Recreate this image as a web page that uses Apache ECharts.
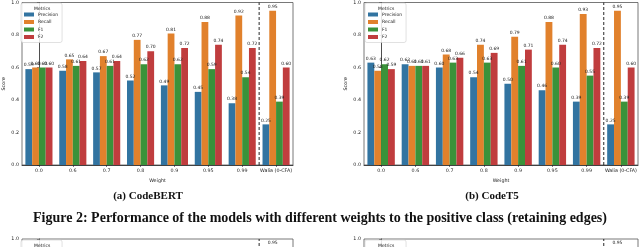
<!DOCTYPE html>
<html>
<head>
<meta charset="utf-8">
<script src="https://cdn.jsdelivr.net/npm/echarts@6/dist/echarts.min.js"></script>
<style>
html,body{margin:0;padding:0;background:#fff;overflow:hidden;width:640px;height:247px;}
#chart{width:640px;height:420px;}
</style>
</head>
<body>
<div id="chart"></div>
<script>
// ---- data ----
const categories = ['0.0', '0.6', '0.7', '0.8', '0.9', '0.95', '0.99', 'Walia (0-CFA)'];
const metrics = ['Precision', 'Recall', 'F1', 'F2'];
const yTicks = [0, 0.2, 0.4, 0.6, 0.8, 1.0];

const codebertPrecision = [0.59, 0.58, 0.57, 0.52, 0.49, 0.45, 0.38, 0.25];
const codebertRecall    = [0.60, 0.65, 0.67, 0.77, 0.81, 0.88, 0.92, 0.95];
const codebertF1        = [0.60, 0.61, 0.61, 0.62, 0.62, 0.59, 0.54, 0.39];
const codebertF2        = [0.60, 0.64, 0.64, 0.70, 0.72, 0.74, 0.72, 0.60];

const codet5Precision = [0.63, 0.62, 0.60, 0.54, 0.50, 0.46, 0.39, 0.25];
const codet5Recall    = [0.58, 0.61, 0.68, 0.74, 0.79, 0.88, 0.93, 0.95];
const codet5F1        = [0.62, 0.61, 0.63, 0.63, 0.61, 0.60, 0.55, 0.39];
const codet5F2        = [0.59, 0.61, 0.66, 0.69, 0.71, 0.74, 0.72, 0.60];

// next figure (only its top edge is visible): Walia baseline column only
const nextPrecision = [null, null, null, null, null, null, null, 0.25];
const nextRecall    = [null, null, null, null, null, null, null, 0.95];
const nextF1        = [null, null, null, null, null, null, null, 0.39];
const nextF2        = [null, null, null, null, null, null, null, 0.60];

const separatorAt = 6.5; // boundary between '0.99' and 'Walia (0-CFA)'

const captionA = '(a) CodeBERT';
const captionB = '(b) CodeT5';
const figureCaption = 'Figure 2: Performance of the models with different weights to the positive class (retaining edges)';

// ---- styles ----
const colors = ['#3274a1', '#e1812c', '#3a923a', '#c03d3e'];
const tickFont = 'DejaVu Sans';
const H = 163;
const panels = [
  {left: 20, top: 2, width: 273, data: [codebertPrecision, codebertRecall, codebertF1, codebertF2]},
  {left: 364, top: 2, width: 274, data: [codet5Precision, codet5Recall, codet5F1, codet5F2]},
  {left: 20, top: 239, width: 273, data: [nextPrecision, nextRecall, nextF1, nextF2]},
  {left: 364, top: 239, width: 274, data: [nextPrecision, nextRecall, nextF1, nextF2]}
];

const grid = [], xAxis = [], yAxis = [], series = [], legend = [], graphic = [];
const n = panels.length;
panels.forEach((p, i) => {
  grid.push({left: p.left, top: p.top, width: p.width, height: H, show: true,
    borderColor: '#555', borderWidth: 0.8, containLabel: false});
  xAxis.push({type: 'category', gridIndex: i, data: categories,
    axisLine: {lineStyle: {color: '#222', width: 0.8}},
    axisTick: {show: true, alignWithLabel: true, length: 2, lineStyle: {color: '#222', width: 0.6}},
    axisLabel: {fontFamily: tickFont, fontSize: 4.8, color: '#222', margin: 3, interval: 0},
    name: 'Weight', nameLocation: 'middle', nameGap: 13,
    nameTextStyle: {fontFamily: tickFont, fontSize: 4.8, color: '#222'}});
  yAxis.push({type: 'value', gridIndex: i, min: 0, max: 1, interval: 0.2,
    axisLine: {show: true, lineStyle: {color: '#222', width: 0.8}},
    axisTick: {show: true, length: 2, lineStyle: {color: '#222', width: 0.6}},
    splitLine: {show: false},
    axisLabel: {fontFamily: tickFont, fontSize: 4.8, color: '#222', margin: 3,
      formatter: v => yTicks.indexOf(Math.round(v * 10) / 10) >= 0 ? v.toFixed(1) : ''},
    name: 'Score', nameLocation: 'middle', nameGap: 16, nameRotate: 90,
    nameTextStyle: {fontFamily: tickFont, fontSize: 4.8, color: '#222'}});
  metrics.forEach((m, k) => {
    series.push({name: m, type: 'bar', xAxisIndex: i, yAxisIndex: i, data: p.data[k],
      barGap: '0%', barCategoryGap: '20%',
      itemStyle: {color: colors[k]},
      label: {show: true, position: 'top', distance: 1.5, fontFamily: tickFont, fontSize: 4.5, color: '#222',
        formatter: d => d.value == null ? '' : Number(d.value).toFixed(2)},
      animation: false});
  });
  legend.push({left: p.left + 1, top: p.top + 1, orient: 'vertical', data: metrics,
    backgroundColor: 'rgba(255,255,255,0.85)', borderColor: '#cccccc', borderWidth: 0.6, borderRadius: 2,
    padding: [9, 4, 3, 3], itemWidth: 10, itemHeight: 4, itemGap: 2.5, icon: 'rect',
    textStyle: {fontFamily: tickFont, fontSize: 4.5, color: '#222', padding: [0, 0, 0, -1]},
    selectedMode: false});
  graphic.push({type: 'text', left: p.left + 14, top: p.top + 4,
    style: {text: 'Metrics', fontFamily: tickFont, fontSize: 4.5, fill: '#222'}, z: 100});
});
// hidden value axes to place the dashed separator between categories
panels.forEach((p, i) => {
  xAxis.push({type: 'value', gridIndex: i, min: -0.5, max: categories.length - 0.5, show: false});
  series.push({type: 'line', xAxisIndex: n + i, yAxisIndex: i,
    data: [[separatorAt, 0], [separatorAt, 1]], symbol: 'none', silent: true,
    lineStyle: {color: '#111', width: 0.9, type: [3, 2]}, animation: false, z: 5});
});

graphic.push({type: 'text', x: 148, y: 196, style: {text: captionA, font: 'bold 11px "Liberation Serif"', fill: '#111', textAlign: 'center', textVerticalAlign: 'middle'}});
graphic.push({type: 'text', x: 492, y: 196, style: {text: captionB, font: 'bold 11px "Liberation Serif"', fill: '#111', textAlign: 'center', textVerticalAlign: 'middle'}});
graphic.push({type: 'text', x: 320, y: 218, style: {text: figureCaption, font: 'bold 14px "Liberation Serif"', fill: '#111', textAlign: 'center', textVerticalAlign: 'middle'}});

const chart = echarts.init(document.getElementById('chart'), null, {renderer: 'canvas'});
chart.setOption({animation: false, backgroundColor: '#fff', grid, xAxis, yAxis, series, legend, graphic});
</script>
</body>
</html>
